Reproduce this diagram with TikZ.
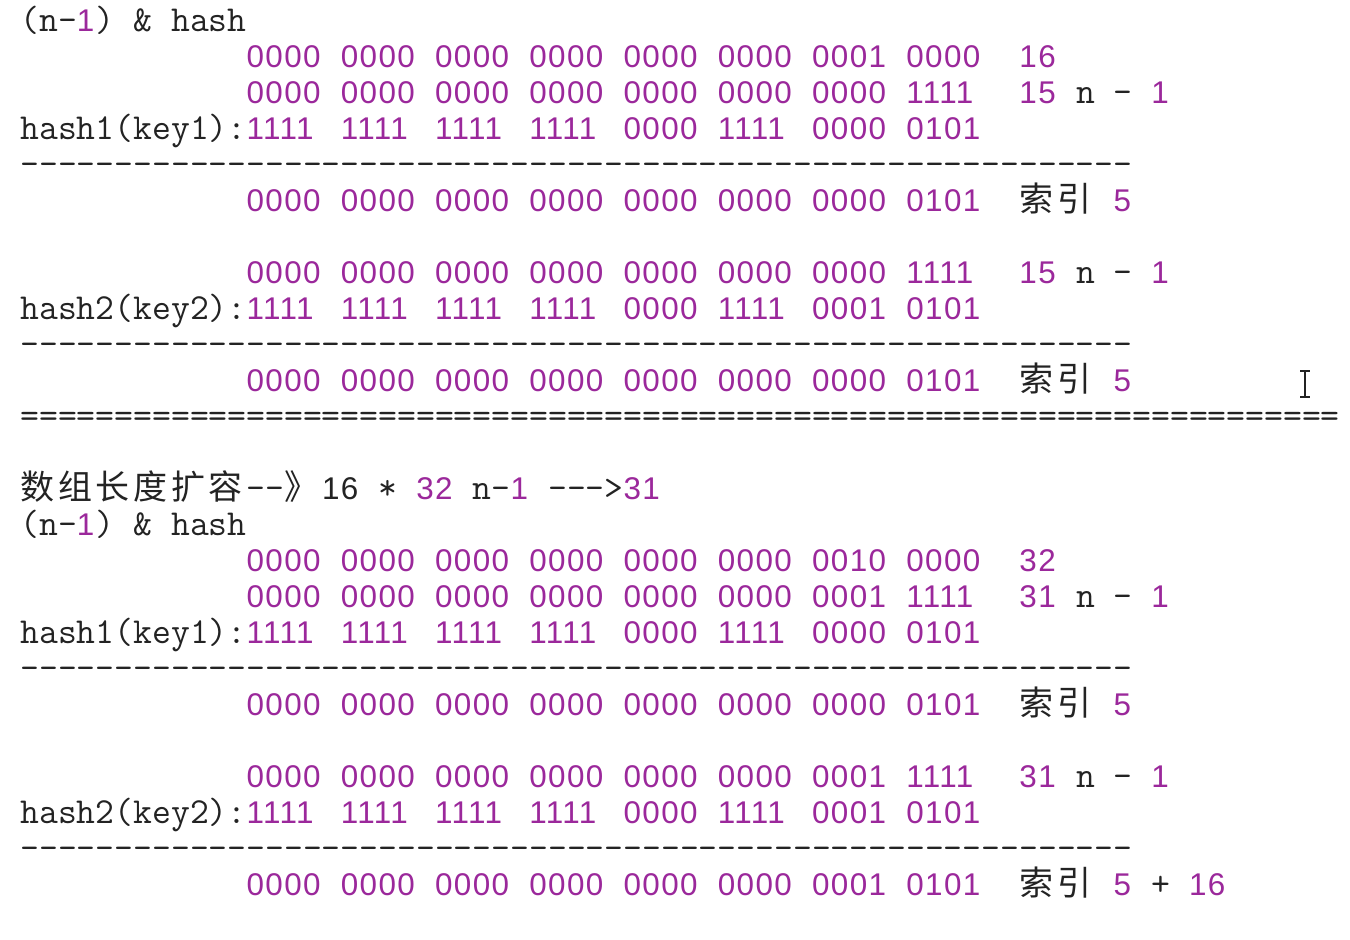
\documentclass[tikz,border=0pt]{standalone}
\usepackage{fontspec}
\newfontfamily\digf[LetterSpace=4.4]{Liberation Sans}
\newfontfamily\cjkf{Noto Sans CJK SC}
\definecolor{ink}{RGB}{35,35,35}
\definecolor{numc}{RGB}{155,40,155}
\tikzset{
    cell/.style 2 args={at={({20+18.85*(#1)},{31+36*(#2)})}},
    txt/.style={anchor=base west, inner sep=0pt, text=ink,
        font=\fontsize{18.3}{20}\selectfont\ttfamily},
    num/.style={txt, text=numc, font=\fontsize{15.7}{18}\selectfont\digf},
    cjk/.style={txt, font=\fontsize{17}{20}\selectfont\cjkf}
}
% one row of eight 4-bit groups
\newcommand\bitrow[2]{%
    \foreach \g [count=\i from 0] in {#2}
        \node[num] (r#1g\i) [cell={12+5*\i}{#1}] {\g};}
% separator made of hyphens
\newcommand\dashrow[1]{%
    \node[txt] (sep#1) [cell={0}{#1}] {\foreach \k in {1,...,59}{-}};}
% "(n-1) & hash"
\newcommand\headrow[1]{%
    \node[txt] (h#1a) [cell={0}{#1}] {(n-};
    \node[num] (h#1b) [cell={3}{#1}] {1};
    \node[txt] (h#1c) [cell={4}{#1}] {) \& hash};}
% "xx n - 1"
\newcommand\maskrow[2]{%
    \node[num] (m#1a) [cell={53}{#1}] {#2};
    \node[txt] (m#1b) [cell={56}{#1}] {n -};
    \node[num] (m#1c) [cell={60}{#1}] {1};}
% "索引 5"
\newcommand\idxrow[1]{%
    \node[cjk] (i#1a) [cell={53}{#1}] {索};
    \node[cjk] (i#1b) [cell={55}{#1}] {引};
    \node[num] (i#1c) [cell={58}{#1}] {5};}

\begin{document}
\begin{tikzpicture}[x=0.5pt,y=-0.5pt]
    \fill[white] (0,0) rectangle (1350,939);
    \useasboundingbox (0,0) rectangle (1350,939);
    \clip (0,0) rectangle (1350,939);

    % length 16
    \headrow{0}
    \bitrow{1}{0000,0000,0000,0000,0000,0000,0001,0000}
    \node[num] (len16) [cell={53}{1}] {16};
    \bitrow{2}{0000,0000,0000,0000,0000,0000,0000,1111}
    \maskrow{2}{15}
    \node[txt] (k1) [cell={0}{3}] {hash1(key1):};
    \bitrow{3}{1111,1111,1111,1111,0000,1111,0000,0101}
    \dashrow{4}
    \bitrow{5}{0000,0000,0000,0000,0000,0000,0000,0101}
    \idxrow{5}

    \bitrow{7}{0000,0000,0000,0000,0000,0000,0000,1111}
    \maskrow{7}{15}
    \node[txt] (k2) [cell={0}{8}] {hash2(key2):};
    \bitrow{8}{1111,1111,1111,1111,0000,1111,0001,0101}
    \dashrow{9}
    \bitrow{10}{0000,0000,0000,0000,0000,0000,0000,0101}
    \idxrow{10}
    \node[txt] (eq) [cell={0}{11}] {\foreach \k in {1,...,70}{=}};

    % mouse cursor
    \draw[ink, line width=1.2pt] (1305,372) -- (1305,396)
        (1300,371) -- (1310,371) (1300,397) -- (1310,397);

    % resize to 32
    \foreach \c [count=\i from 0] in {数,组,长,度,扩,容}
        \node[cjk] (t\i) [cell={2*\i}{13}] {\c};
    \node[txt] (t6) [cell={12}{13}] {--};
    \node[cjk] (t7) [cell={14}{13}] {》};
    \node[num, text=ink] (t8) [cell={16}{13}] {16};
    \node[txt] (t9) [cell={19}{13}] {*};
    \node[num] (t10) [cell={21}{13}] {32};
    \node[txt] (t11) [cell={24}{13}] {n-};
    \node[num] (t12) [cell={26}{13}] {1};
    \node[txt] (t13) [cell={28}{13}] {--->};
    \node[num] (t14) [cell={32}{13}] {31};

    \headrow{14}
    \bitrow{15}{0000,0000,0000,0000,0000,0000,0010,0000}
    \node[num] (len32) [cell={53}{15}] {32};
    \bitrow{16}{0000,0000,0000,0000,0000,0000,0001,1111}
    \maskrow{16}{31}
    \node[txt] (k3) [cell={0}{17}] {hash1(key1):};
    \bitrow{17}{1111,1111,1111,1111,0000,1111,0000,0101}
    \dashrow{18}
    \bitrow{19}{0000,0000,0000,0000,0000,0000,0000,0101}
    \idxrow{19}

    \bitrow{21}{0000,0000,0000,0000,0000,0000,0001,1111}
    \maskrow{21}{31}
    \node[txt] (k4) [cell={0}{22}] {hash2(key2):};
    \bitrow{22}{1111,1111,1111,1111,0000,1111,0001,0101}
    \dashrow{23}
    \bitrow{24}{0000,0000,0000,0000,0000,0000,0001,0101}
    \idxrow{24}
    \node[txt] (p) [cell={60}{24}] {+};
    \node[num] (p16) [cell={62}{24}] {16};
\end{tikzpicture}
\end{document}
